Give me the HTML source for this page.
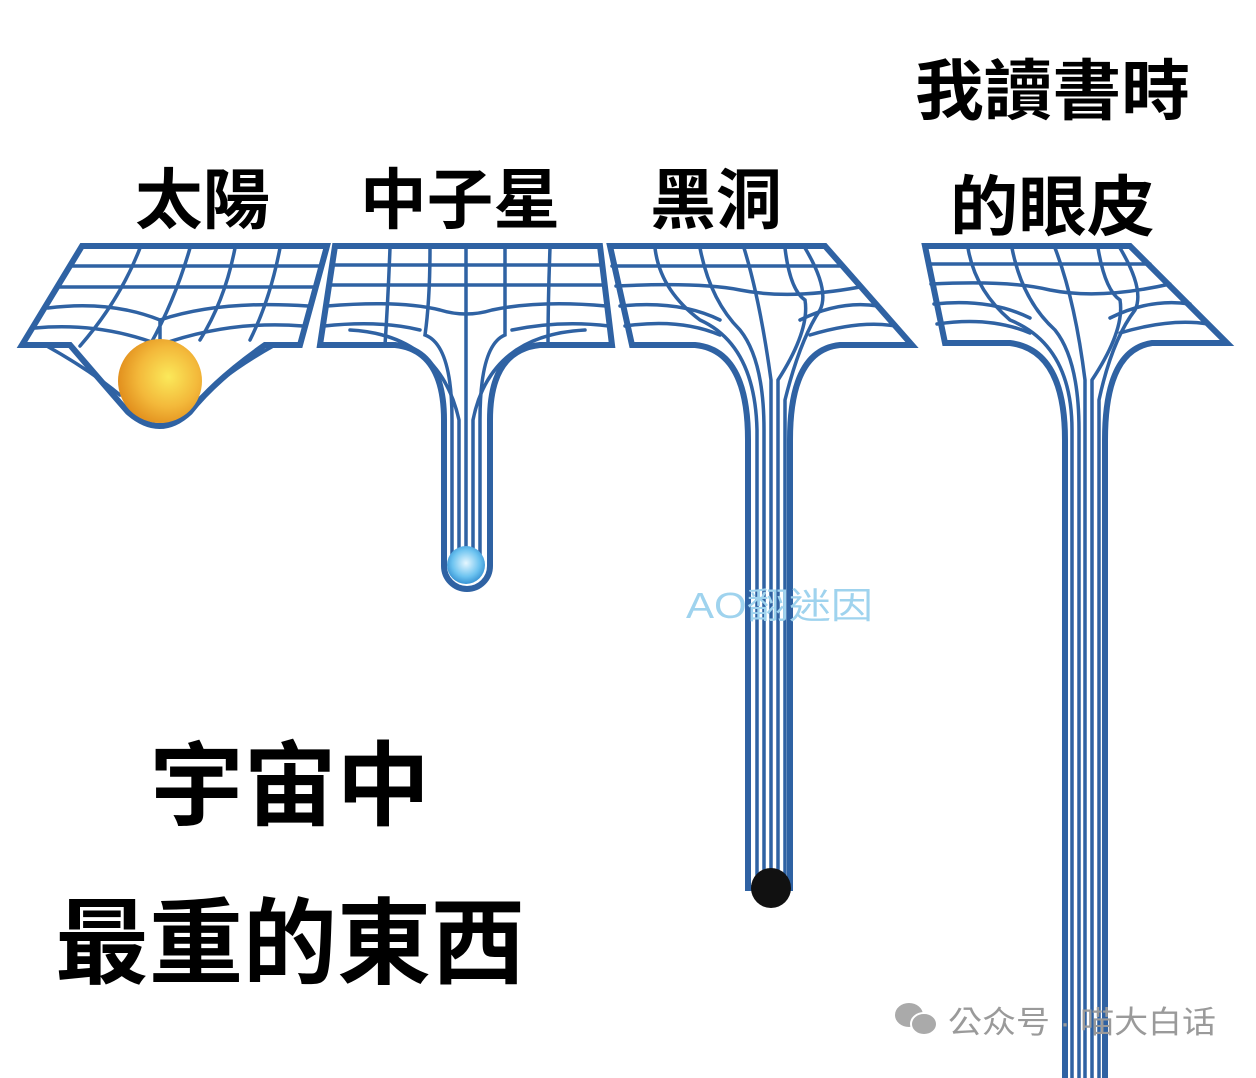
<!DOCTYPE html>
<html><head><meta charset="utf-8"><style>
html,body{margin:0;padding:0;background:#fff;}
svg{display:block;}
text{font-family:"Liberation Sans","Noto Sans CJK TC","Noto Sans CJK SC",sans-serif;}
</style></head><body>
<svg width="1256" height="1078" viewBox="0 0 1256 1078" xmlns="http://www.w3.org/2000/svg">
<defs>
<radialGradient id="sun" cx="0.6" cy="0.45" r="0.6"><stop offset="0" stop-color="#fbe95a"/><stop offset="0.6" stop-color="#f3b83a"/><stop offset="1" stop-color="#e2901e"/></radialGradient>
<radialGradient id="ns" cx="0.5" cy="0.45" r="0.6"><stop offset="0" stop-color="#e6f7ff"/><stop offset="0.6" stop-color="#6cc3f0"/><stop offset="1" stop-color="#2a86cc"/></radialGradient>
</defs>
<g fill="none" stroke="#2f62a3" stroke-width="3.5" stroke-linecap="round">
<!-- Panel 1: Sun -->
<path d="M82,246 L327,246 L300,345 L265,345 Q215,380 190,412 Q160,440 128,412 Q100,380 70,345 L22,345 Z" stroke-width="6" fill="#fff"/>
<path d="M72,266 L320,266 M60,287 L315,287 M48,308 Q110,300 160,320 Q220,300 308,306 M35,328 Q100,322 160,345 Q230,320 303,326"/>
<path d="M140,248 Q120,300 80,346 M190,248 Q175,300 150,345 Q140,370 130,380 M235,248 Q225,300 200,340 M280,248 Q270,300 250,340 M160,320 L160,345"/>
<path d="M45,345 Q90,370 120,395 M275,345 Q230,370 200,398"/>
<!-- Panel 2: Neutron star -->
<path d="M335,246 L600,246 L612,345 L540,345 Q490,350 490,420 L490,566 A23,23 0 0 1 444,566 L444,420 Q444,350 395,345 L320,345 Z" stroke-width="6" fill="#fff"/>
<path d="M333,265 L600,265 M330,285 L603,285 M327,306 Q400,300 440,310 Q466,318 492,310 Q540,300 606,306 M324,326 Q380,320 420,330 M512,330 Q560,320 609,326"/>
<path d="M390,248 Q388,300 385,345 M430,248 Q430,300 425,335 Q452,345 452,420 L452,565 M466,248 L466,565 M505,248 Q505,300 505,335 Q480,345 480,420 L480,565 M550,248 Q548,300 548,345"/>
<path d="M350,330 Q440,335 459,420 L459,565 M585,330 Q490,335 473,420 L473,565"/>
<!-- Panel 3: Black hole -->
<path d="M610,246 L825,246 L912,345 L840,345 Q790,350 790,440 L790,888 L748,888 L748,440 Q748,350 695,345 L632,345 Z" stroke-width="6" fill="#fff"/>
<path d="M612,266 L843,266 M616,286 Q700,282 740,290 Q790,300 860,287 M620,306 Q680,300 720,320 M800,320 Q840,300 878,306 M625,326 Q680,318 720,335 M810,335 Q860,320 895,326"/>
<path d="M655,248 Q660,290 700,320 Q755,345 757,430 L757,888 M700,248 Q710,300 740,330 Q764,360 764,430 L764,888 M744,248 Q760,300 771,380 L771,888 M785,248 Q790,290 805,300 Q810,330 778,380 L778,888 M805,248 Q830,290 820,310 Q800,340 785,400 L785,888"/>
<!-- Panel 4: Eyelids -->
<path d="M925,246 L1130,246 L1227,343 L1152,343 Q1105,350 1105,440 L1105,1090 L1065,1090 L1065,440 Q1065,350 1010,343 L945,343 Z" stroke-width="6" fill="#fff"/>
<path d="M928,264 L1150,264 M931,284 Q1010,280 1050,290 Q1100,300 1170,284 M934,304 Q990,298 1030,318 M1110,318 Q1150,298 1190,304 M937,324 Q990,316 1030,333 M1120,333 Q1170,318 1208,324"/>
<path d="M968,248 Q975,290 1010,320 Q1072,345 1072,430 L1072,1078 M1012,248 Q1022,300 1055,330 Q1079,360 1079,430 L1079,1078 M1055,248 Q1075,300 1085,380 L1085,1078 M1098,248 Q1105,290 1120,300 Q1125,330 1092,380 L1092,1078 M1120,248 Q1145,290 1135,310 Q1112,340 1099,400 L1099,1078"/>
</g>
<circle cx="160" cy="381" r="42" fill="url(#sun)"/>
<circle cx="466" cy="565" r="19" fill="url(#ns)"/>
<circle cx="771" cy="888" r="20" fill="#111"/>
<g font-weight="bold">
<text x="135" y="223" font-size="66" textLength="135" lengthAdjust="spacingAndGlyphs">太陽</text>
<text x="360" y="223" font-size="66" textLength="200" lengthAdjust="spacingAndGlyphs">中子星</text>
<text x="650" y="223" font-size="66" textLength="132" lengthAdjust="spacingAndGlyphs">黑洞</text>
<text x="915" y="114" font-size="66" textLength="275" lengthAdjust="spacingAndGlyphs">我讀書時</text>
<text x="950" y="230" font-size="66" textLength="205" lengthAdjust="spacingAndGlyphs">的眼皮</text>
<text x="150" y="818" font-size="92" textLength="280" lengthAdjust="spacingAndGlyphs">宇宙中</text>
<text x="55" y="976" font-size="94" textLength="470" lengthAdjust="spacingAndGlyphs">最重的東西</text>
</g>
<text x="686" y="618" font-size="36" fill="#9fd3ee" textLength="187" lengthAdjust="spacingAndGlyphs">AO翻迷因</text>
<g fill="#aaa"><ellipse cx="909" cy="1015" rx="14" ry="12"/><ellipse cx="924" cy="1024" rx="13" ry="11" stroke="#fff" stroke-width="2"/></g>
<text x="948" y="1033" font-size="31" fill="#9a9a9a" textLength="268" lengthAdjust="spacingAndGlyphs">公众号 · 喵大白话</text>
</svg>
</body></html>
